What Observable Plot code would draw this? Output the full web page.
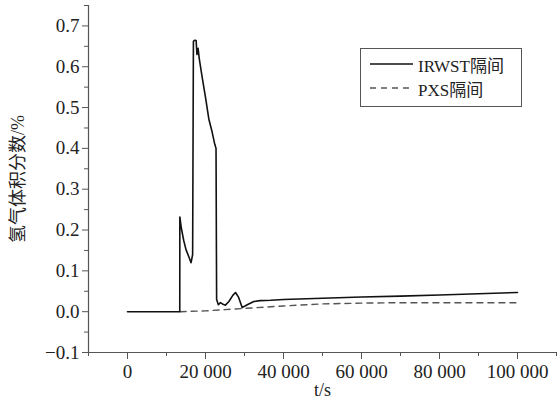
<!DOCTYPE html>
<html>
<head>
<meta charset="utf-8">
<script src="https://cdn.jsdelivr.net/npm/d3@7"></script>
<script src="https://cdn.jsdelivr.net/npm/@observablehq/plot@0.6"></script>
<style>
  html, body { margin: 0; padding: 0; background: #fff; }
  #wrap { position: relative; width: 558px; height: 408px; }
  #legend {
    position: absolute; left: 360px; top: 48px; width: 162px; height: 59px;
    border: 1px solid #555; box-sizing: border-box; background: #fff;
    font-family: "Liberation Serif", "Times New Roman", "Noto Sans CJK SC", serif;
    font-size: 17px; color: #222;
  }
  .row { position: absolute; left: 0; height: 20px; display: flex; align-items: center; }
  .row svg { margin-left: 9px; margin-right: 5px; }
</style>
</head>
<body>
<div id="wrap"></div>
<script>
// ---- data ----
const tSolid = [0, 13400, 13420, 13800, 14400, 15000, 15700, 16300, 16700, 16900, 17200, 17600, 17800, 18100, 18400, 19150, 20000, 20850, 21700, 22380, 22700, 22850, 23300, 23850, 24500, 25100, 26000, 27000, 27700, 28500, 29400, 30700, 32400, 34000, 36700, 40000, 50000, 60000, 70000, 80000, 90000, 100000];
const hSolid = [0, 0, 0.232, 0.205, 0.175, 0.152, 0.135, 0.12, 0.14, 0.662, 0.665, 0.664, 0.63, 0.645, 0.62, 0.574, 0.525, 0.472, 0.44, 0.41, 0.40, 0.03, 0.017, 0.022, 0.018, 0.016, 0.025, 0.04, 0.047, 0.035, 0.01, 0.017, 0.025, 0.027, 0.028, 0.030, 0.033, 0.036, 0.038, 0.041, 0.044, 0.047];
const tDashed = [13500, 20000, 25000, 30000, 35000, 40000, 50000, 60000, 70000, 80000, 100000];
const hDashed = [0, 0.002, 0.005, 0.008, 0.011, 0.014, 0.019, 0.021, 0.022, 0.022, 0.022];

const seriesNames = ["IRWST隔间", "PXS隔间"];
const xMajor = [0, 20000, 40000, 60000, 80000, 100000];
const xMinor = [-10000, 10000, 30000, 50000, 70000, 90000, 110000];
const yMajor = [-0.1, 0.0, 0.1, 0.2, 0.3, 0.4, 0.5, 0.6, 0.7];
const yMinor = [-0.05, 0.05, 0.15, 0.25, 0.35, 0.45, 0.55, 0.65, 0.75];
const xLabel = "t/s";
const yLabel = "氢气体积分数/%";

const solid = tSolid.map((t, i) => ({t, h: hSolid[i]}));
const dashed = tDashed.map((t, i) => ({t, h: hDashed[i]}));

const fmtX = d => String(d).replace(/\B(?=(\d{3})+(?!\d))/g, " ");
const fmtY = d => (d < 0 ? "−" : "") + Math.abs(d).toFixed(1);
const axisColor = "#555";
const fontFam = "Liberation Serif, Times New Roman, Noto Sans CJK SC, serif";

const chart = Plot.plot({
  width: 558,
  height: 408,
  marginLeft: 88,
  marginRight: 2,
  marginTop: 5,
  marginBottom: 56,
  style: { fontSize: "17px", color: "#222", background: "#fff" },
  x: { domain: [-10000, 110000] },
  y: { domain: [-0.1, 0.75] },
  marks: [
    Plot.ruleX([-10000], { stroke: axisColor, strokeWidth: 1.2 }),
    Plot.ruleY([-0.1], { stroke: axisColor, strokeWidth: 1.2 }),
    Plot.axisY(yMajor, { tickSize: 6, tickPadding: 3, tickFormat: fmtY, label: null, stroke: axisColor, fill: "#222", fontSize: 19, fontFamily: fontFam, fontVariant: "normal" }),
    Plot.axisY(yMinor, { tickSize: 4, tickFormat: () => "", label: null, stroke: axisColor }),
    Plot.axisX(xMajor, { tickSize: 7, tickPadding: 5, tickFormat: fmtX, label: null, stroke: axisColor, fill: "#222", fontSize: 19, fontFamily: fontFam, fontVariant: "normal" }),
    Plot.axisX(xMinor, { tickSize: 4, tickFormat: () => "", label: null, stroke: axisColor }),
    Plot.line(dashed, { x: "t", y: "h", stroke: "#555", strokeWidth: 1.4, strokeDasharray: "6,5" }),
    Plot.line(solid, { x: "t", y: "h", stroke: "#111", strokeWidth: 1.6 }),
    Plot.text([xLabel], { frameAnchor: "bottom", dy: 43, fill: "#222", fontSize: 18, fontFamily: fontFam }),
    Plot.text([yLabel], { frameAnchor: "left", textAnchor: "middle", rotate: -90, dx: -70, fill: "#222", fontSize: 18, fontFamily: fontFam })
  ]
});

const wrap = document.getElementById("wrap");
wrap.appendChild(chart);

const legend = document.createElement("div");
legend.id = "legend";
legend.innerHTML = `
  <div class="row" style="top:5px"><svg width="43" height="4"><line x1="0" y1="2" x2="43" y2="2" stroke="#111" stroke-width="1.6"/></svg><span>${seriesNames[0]}</span></div>
  <div class="row" style="top:29px"><svg width="43" height="4"><line x1="0" y1="2" x2="43" y2="2" stroke="#555" stroke-width="1.4" stroke-dasharray="6,5"/></svg><span>${seriesNames[1]}</span></div>`;
wrap.appendChild(legend);
</script>
</body>
</html>
